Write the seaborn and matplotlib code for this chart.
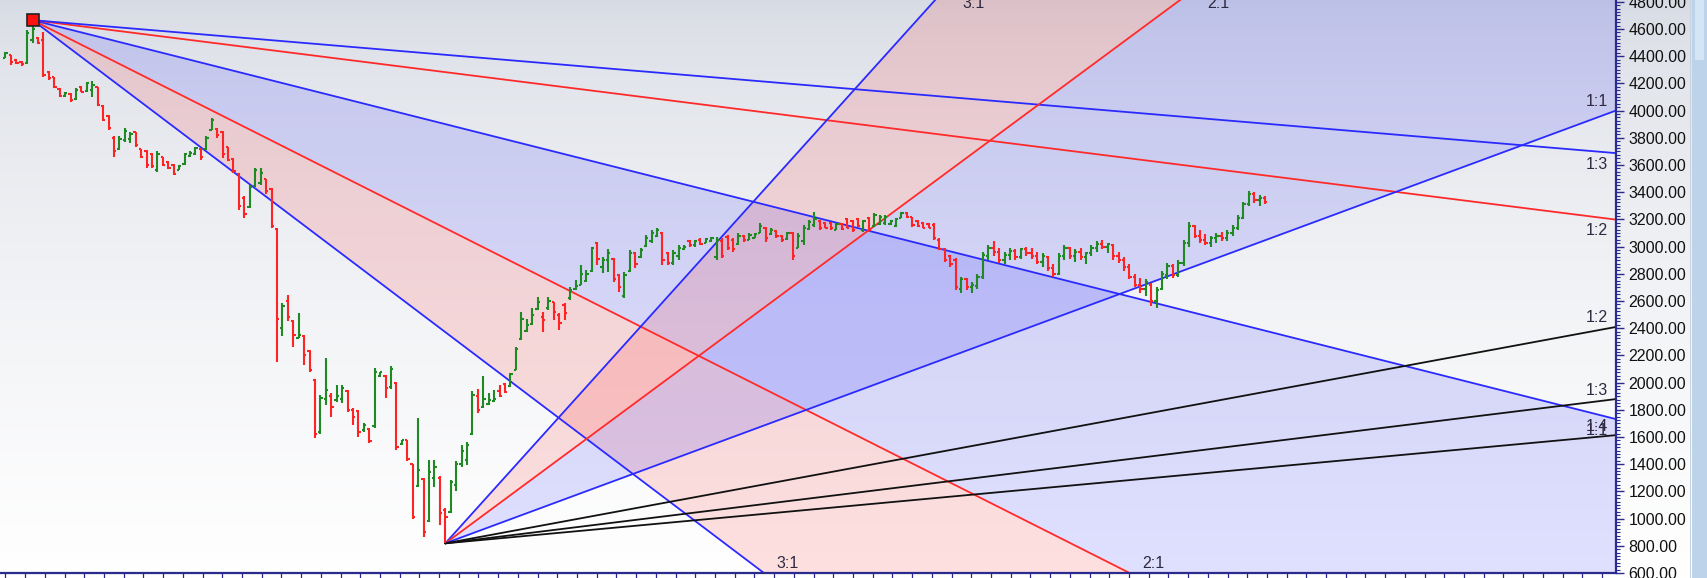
import numpy as np
import pandas as pd
import matplotlib
matplotlib.use("Agg")
import matplotlib.pyplot as plt
import seaborn as sns
from matplotlib.ticker import MultipleLocator, FormatStrFormatter
from matplotlib.patches import Rectangle

sns.set_theme(style="white")
plt.rcParams["font.family"] = ["Liberation Sans", "DejaVu Sans"]

# ----------------------------------------------------------
# OHLC bars
# ----------------------------------------------------------
highs = [4430, 4410, 4380, 4365, 4590, 4665, 4540, 4580, 4290, 4250,
         4165, 4140, 4130, 4165, 4180, 4210, 4215, 4175, 4040, 3965,
         3810, 3810, 3870, 3845, 3845, 3720, 3710, 3690, 3700, 3660,
         3630, 3610, 3600, 3690, 3700, 3735, 3725, 3810, 3945, 3870,
         3850, 3735, 3650, 3540, 3370, 3455, 3575, 3575, 3500, 3430,
         3135, 2585, 2645, 2460, 2510, 2350, 2240, 2030, 1910, 2180,
         1920, 1980, 1985, 1945, 1810, 1800, 1700, 1665, 2105, 2080,
         2055, 2120, 2005, 1580, 1580, 1405, 1740, 1295, 1430, 1430,
         1310, 1075, 1285, 1420, 1540, 1565, 1935, 1955, 2045, 1920,
         1945, 1980, 1995, 2070, 2265, 2520, 2470, 2545, 2630, 2520,
         2630, 2595, 2510, 2585, 2700, 2755, 2865, 2830, 3000, 3035,
         2925, 2980, 2915, 2800, 2815, 2975, 2963, 2987, 3085, 3120,
         3134, 3110, 2963, 2975, 3012, 3012, 3048, 3048, 3060, 3060,
         3073, 3073, 3060, 3085, 3060, 3097, 3085, 3097, 3097, 3170,
         3146, 3134, 3122, 3085, 3110, 3110, 3097, 3158, 3195, 3257,
         3195, 3183, 3183, 3171, 3171, 3208, 3195, 3208, 3195, 3220,
         3244, 3232, 3232, 3195, 3208, 3257, 3257, 3220, 3195, 3183,
         3171, 3171, 3060, 2987, 2938, 2913, 2780, 2770, 2740, 2800,
         2960, 3010, 3040, 2990, 2960, 2990, 2980, 2990, 3000, 2990,
         2960, 2950, 2930, 2870, 2950, 3010, 3000, 2980, 2990, 2960,
         3010, 3040, 3050, 3030, 3020, 2960, 2920, 2870, 2800, 2770,
         2760, 2730, 2700, 2820, 2880, 2870, 2900, 3050, 3180, 3160,
         3120, 3090, 3080, 3100, 3110, 3120, 3160, 3230, 3330, 3410,
         3400, 3380, 3370]
lows = [4385, 4335, 4345, 4330, 4345, 4495, 4490, 4250, 4225, 4165,
        4100, 4100, 4065, 4075, 4135, 4135, 4100, 4030, 3920, 3855,
        3660, 3710, 3770, 3760, 3735, 3650, 3575, 3575, 3550, 3590,
        3570, 3525, 3560, 3600, 3660, 3675, 3640, 3710, 3855, 3800,
        3650, 3630, 3540, 3270, 3210, 3280, 3440, 3455, 3390, 3135,
        2155, 2340, 2450, 2265, 2325, 2130, 2080, 1590, 1625, 1835,
        1750, 1860, 1850, 1785, 1690, 1600, 1640, 1555, 1665, 2040,
        1885, 1955, 1505, 1540, 1420, 1000, 1235, 865, 975, 1235,
        955, 818, 1040, 1200, 1380, 1395, 1615, 1775, 1810, 1835,
        1860, 1895, 1920, 1970, 2090, 2310, 2375, 2420, 2535, 2375,
        2535, 2460, 2385, 2460, 2610, 2680, 2715, 2740, 2815, 2865,
        2805, 2815, 2740, 2665, 2620, 2815, 2840, 2913, 3000, 3024,
        3073, 2864, 2864, 2864, 2901, 2975, 3000, 3000, 3012, 3024,
        3036, 2901, 2913, 2975, 2963, 3012, 3036, 3048, 3060, 3097,
        3036, 3085, 3060, 3036, 3048, 2901, 2987, 3012, 3122, 3146,
        3122, 3134, 3122, 3122, 3122, 3134, 3110, 3146, 3110, 3110,
        3146, 3158, 3158, 3158, 3146, 3208, 3208, 3146, 3146, 3134,
        3134, 3048, 2975, 2889, 2852, 2681, 2660, 2680, 2660, 2690,
        2760, 2900, 2930, 2880, 2870, 2900, 2900, 2910, 2930, 2910,
        2870, 2850, 2820, 2780, 2790, 2900, 2910, 2890, 2900, 2870,
        2930, 2960, 2980, 2950, 2900, 2880, 2820, 2760, 2700, 2660,
        2640, 2560, 2545, 2680, 2760, 2770, 2780, 2860, 3000, 3060,
        3030, 3010, 3000, 3030, 3040, 3040, 3080, 3120, 3200, 3300,
        3320, 3300, 3310]
opens = [4390, 4405, 4370, 4360, 4350, 4520, 4530, 4520, 4285, 4245,
         4160, 4110, 4125, 4085, 4170, 4145, 4150, 4170, 4035, 3960,
         3800, 3720, 3780, 3790, 3840, 3715, 3700, 3680, 3560, 3655,
         3620, 3600, 3565, 3605, 3665, 3680, 3720, 3715, 3860, 3865,
         3840, 3730, 3645, 3535, 3360, 3290, 3445, 3465, 3495, 3420,
         3130, 2400, 2600, 2450, 2330, 2345, 2230, 2020, 1640, 1880,
         1905, 1870, 1880, 1940, 1800, 1790, 1650, 1660, 1680, 2045,
         2050, 1970, 2000, 1545, 1575, 1400, 1240, 1290, 985, 1300,
         1300, 1065, 1050, 1250, 1400, 1430, 1620, 1900, 1820, 1845,
         1865, 1940, 1990, 1975, 2095, 2320, 2380, 2430, 2540, 2480,
         2545, 2590, 2500, 2570, 2620, 2690, 2720, 2750, 2820, 3030,
         2850, 2900, 2910, 2790, 2640, 2820, 2950, 2920, 3005, 3040,
         3080, 3100, 2950, 2880, 2930, 2980, 3040, 3010, 3050, 3025,
         3040, 2920, 3040, 3070, 3050, 3020, 3080, 3050, 3065, 3100,
         3140, 3090, 3115, 3080, 3055, 3100, 2990, 3040, 3130, 3160,
         3190, 3175, 3175, 3125, 3165, 3200, 3185, 3200, 3120, 3210,
         3150, 3165, 3170, 3165, 3150, 3210, 3250, 3215, 3190, 3175,
         3165, 3160, 3050, 2980, 2930, 2900, 2690, 2760, 2700, 2710,
         2780, 2930, 2990, 2960, 2900, 2940, 2970, 2920, 2980, 2950,
         2930, 2890, 2920, 2840, 2800, 2930, 2990, 2930, 2960, 2920,
         2950, 2990, 3020, 3000, 3010, 2930, 2900, 2850, 2780, 2720,
         2690, 2720, 2600, 2690, 2790, 2860, 2790, 2880, 3030, 3150,
         3080, 3050, 3030, 3060, 3080, 3060, 3100, 3140, 3210, 3310,
         3390, 3340, 3360]
closes = [4420, 4360, 4350, 4340, 4570, 4600, 4500, 4265, 4240, 4175,
          4110, 4130, 4080, 4150, 4140, 4200, 4190, 4040, 3930, 3870,
          3700, 3790, 3850, 3830, 3745, 3660, 3600, 3590, 3680, 3600,
          3580, 3535, 3590, 3680, 3690, 3725, 3660, 3800, 3930, 3820,
          3680, 3640, 3555, 3300, 3240, 3440, 3560, 3540, 3410, 3150,
          2470, 2560, 2480, 2350, 2350, 2200, 2090, 1620, 1890, 1945,
          1820, 1900, 1960, 1800, 1745, 1640, 1690, 1570, 2080, 2075,
          1960, 2100, 1525, 1575, 1440, 1010, 1360, 900, 1340, 1380,
          1040, 1010, 1270, 1400, 1500, 1540, 1910, 1800, 1880, 1870,
          1880, 1905, 1930, 2060, 2250, 2470, 2420, 2500, 2590, 2460,
          2600, 2520, 2440, 2510, 2680, 2710, 2800, 2800, 2990, 2910,
          2900, 2950, 2760, 2700, 2790, 2950, 2870, 2975, 3060, 3100,
          3120, 2900, 2880, 2950, 2990, 3000, 3010, 3040, 3020, 3055,
          3065, 3050, 2930, 2990, 2980, 3080, 3045, 3085, 3090, 3150,
          3060, 3120, 3075, 3045, 3100, 2930, 3080, 3140, 3180, 3200,
          3140, 3140, 3135, 3165, 3130, 3140, 3120, 3155, 3185, 3125,
          3230, 3220, 3215, 3190, 3200, 3245, 3215, 3160, 3155, 3140,
          3140, 3060, 2985, 2900, 2870, 2700, 2760, 2700, 2720, 2780,
          2940, 2990, 2960, 2900, 2940, 2970, 2920, 2980, 2950, 2930,
          2890, 2930, 2840, 2800, 2930, 2990, 2930, 2960, 2920, 2950,
          2990, 3020, 3000, 3020, 2930, 2900, 2850, 2780, 2720, 2690,
          2740, 2600, 2680, 2800, 2860, 2790, 2880, 3030, 3150, 3080,
          3050, 3030, 3060, 3080, 3060, 3100, 3140, 3210, 3310, 3390,
          3340, 3360, 3330]

# ----------------------------------------------------------
# Gann fans: ratios, colours and the 1x1 unit (price per bar)
# ----------------------------------------------------------
high_fan_ratios = ["3:1", "2:1", "1:1", "1:2", "1:3"]
high_fan_colors = ["#2a2aff", "#ff2a2a", "#2a2aff", "#ff2a2a", "#2a2aff"]
high_fan_unit = 10.06

low_fan_ratios = ["3:1", "2:1", "1:1", "1:2", "1:3", "1:4"]
low_fan_colors = ["#2a2aff", "#ff2a2a", "#2a2aff", "#111111", "#111111", "#111111"]
low_fan_unit = 14.76

y_ticks = np.arange(600, 5000, 200)

# ----------------------------------------------------------
# Figure
# ----------------------------------------------------------
W, H = 1707, 578
fig = plt.figure(figsize=(W / 100, H / 100), dpi=100)

# background gradient
bg = fig.add_axes([0, 0, 1, 1], zorder=0)
t = np.linspace(0, 1, 400)[:, None] ** 0.6
top = np.array([0.84, 0.855, 0.89])
img = top[None, None, :] + (1 - top)[None, None, :] * t[..., None]
bg.imshow(img, aspect="auto", extent=[0, 1, 0, 1], origin="upper")
bg.set_axis_off()

ax = fig.add_axes([0, 5 / H, 1616 / W, 573 / H], zorder=1)
ax.set_facecolor("none")

n = len(closes)
xs = np.arange(n)
x_left = -1.0
x_right = x_left + 1616 / 5.43
y_bot, y_top = 600, 4813
ax.set_xlim(x_left, x_right)
ax.set_ylim(y_bot, y_top)

ih = int(np.argmax(highs))
il = int(np.argmin(lows))
p_high = highs[ih]
p_low = lows[il]


def mult(r):
    a, b = r.split(":")
    return float(a) / float(b)


x_far = x_right + 10
rows = []
for r in high_fan_ratios:
    s = -mult(r) * high_fan_unit
    rows += [("high " + r, ih, p_high), ("high " + r, x_far, p_high + s * (x_far - ih))]
for r in low_fan_ratios:
    s = mult(r) * low_fan_unit
    rows += [("low " + r, il, p_low), ("low " + r, x_far, p_low + s * (x_far - il))]
fan = pd.DataFrame(rows, columns=["line", "x", "price"])

palette = {}
for r, c in zip(high_fan_ratios, high_fan_colors):
    palette["high " + r] = c
for r, c in zip(low_fan_ratios, low_fan_colors):
    palette["low " + r] = c

# fills between the first three lines of each fan
pink = (1, 0, 0, 0.12)
lav = (0, 0, 1, 0.12)
for name, x0, p0, unit, sign in [("high", ih, p_high, high_fan_unit, -1),
                                  ("low", il, p_low, low_fan_unit, 1)]:
    fx = np.array([x0, x_far])
    ratios = high_fan_ratios if name == "high" else low_fan_ratios
    ys = [p0 + sign * mult(r) * unit * (fx - x0) for r in ratios[:3]]
    ax.fill_between(fx, ys[0], ys[1], color=pink, lw=0, zorder=1)
    ax.fill_between(fx, ys[1], ys[2], color=lav, lw=0, zorder=1)

sns.lineplot(data=fan, x="x", y="price", hue="line", palette=palette,
             legend=False, linewidth=1.3, estimator=None, sort=False, ax=ax, zorder=2)

# OHLC bars
bar_colors = ["#1f8a24" if c >= o else "#ff2424" for o, c in zip(opens, closes)]
tick = 0.42
ax.vlines(xs, lows, highs, colors=bar_colors, linewidth=1.5, zorder=3)
ax.hlines(opens, xs - tick, xs, colors=bar_colors, linewidth=1.5, zorder=3)
ax.hlines(closes, xs, xs + tick, colors=bar_colors, linewidth=1.5, zorder=3)

# marker on the high
ax.plot([ih], [p_high], marker="s", ms=8, mfc="#ff1010", mec="#222222", mew=1.2,
        zorder=5, clip_on=False)

# fan labels
lab_kw = dict(textcoords="offset pixels", fontsize=11.5, color="#2e2840",
              annotation_clip=False, zorder=6)
for r in high_fan_ratios:
    s = -mult(r) * high_fan_unit
    y_end = p_high + s * (x_right - ih)
    if y_end >= y_bot:
        ax.annotate(r, (x_right, y_end), xytext=(-8, -11), ha="right", va="center", **lab_kw)
    else:
        xb = ih + (y_bot - p_high) / s
        ax.annotate(r, (xb, y_bot), xytext=(24, 10), ha="center", va="center", **lab_kw)
for r in low_fan_ratios:
    s = mult(r) * low_fan_unit
    y_end = p_low + s * (x_right - il)
    if y_end <= y_top:
        ax.annotate(r, (x_right, y_end), xytext=(-8, 9), ha="right", va="center", **lab_kw)
    else:
        xt = il + (y_top - p_low) / s
        ax.annotate(r, (xt, y_top), xytext=(38, -3), ha="center", va="center", **lab_kw)

# axes styling
navy = "#2b2b8f"
for side in ["left", "top"]:
    ax.spines[side].set_visible(False)
for side in ["right", "bottom"]:
    ax.spines[side].set_visible(True)
    ax.spines[side].set_color(navy)
    ax.spines[side].set_linewidth(1.6)

ax.yaxis.tick_right()
ax.set_yticks(y_ticks)
ax.yaxis.set_major_formatter(FormatStrFormatter("%.2f"))
ax.yaxis.set_minor_locator(MultipleLocator(25))
ax.tick_params(axis="y", which="major", right=True, left=False, length=6, width=1,
               color=navy, labelcolor="#111111", labelsize=11.5, pad=3)
ax.tick_params(axis="y", which="minor", right=True, left=False, length=3, width=0.8,
               color=navy)
ax.xaxis.set_major_locator(MultipleLocator(3.63))
ax.tick_params(axis="x", which="major", bottom=True, length=4, width=0.9, color=navy,
               labelbottom=False)
ax.set_xlabel("")
ax.set_ylabel("")
ax.grid(False)

# scrollbar strip on the right
fig.add_artist(Rectangle((1690 / W, 0), 1 / W, 1, transform=fig.transFigure,
                         facecolor="#c9d2dc", edgecolor="none", zorder=3))
fig.add_artist(Rectangle((1692 / W, 0), 15 / W, 1, transform=fig.transFigure,
                         facecolor="#bcd3ea", edgecolor="none", zorder=3))
fig.add_artist(Rectangle((1695 / W, 1 - 60 / H), 9 / W, 60 / H, transform=fig.transFigure,
                         facecolor="#d4e5f6", edgecolor="none", zorder=4))

fig.savefig("out.png", dpi=100)
